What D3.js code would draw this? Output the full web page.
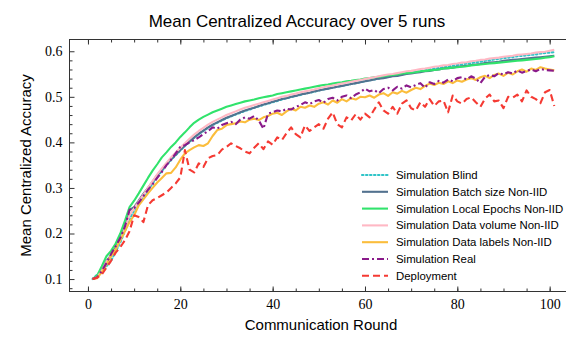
<!DOCTYPE html>
<html lang="en">
<head>
<meta charset="UTF-8">
<title>Mean Centralized Accuracy over 5 runs</title>
<style>
    body { margin: 0; background: #fff; }
    svg { display: block; }
</style>
</head>
<body>
<svg id="chart" width="566" height="338"></svg>

<script src="https://d3js.org/d3.v7.min.js"></script>
<script>
// communication rounds 1..101
const rounds = d3.range(1, 102);

const xTicks = [0, 20, 40, 60, 80, 100];
const yTicks = [0.1, 0.2, 0.3, 0.4, 0.5, 0.6];

const simBlind = [
    .100,.110,.112,.128,.140,.160,.180,.205,.232,.250,
    .265,.280,.295,.310,.324,.337,.350,.361,.372,.382,
    .392,.401,.410,.418,.425,.432,.438,.443,.448,.453,
    .457,.461,.465,.469,.472,.476,.479,.482,.485,.488,
    .491,.494,.497,.499,.502,.504,.507,.509,.511,.514,
    .516,.518,.520,.522,.524,.526,.528,.530,.532,.534,
    .536,.538,.540,.542,.544,.546,.547,.549,.551,.553,
    .555,.556,.558,.560,.562,.563,.565,.567,.568,.570,
    .571,.573,.574,.576,.577,.579,.580,.582,.583,.585,
    .586,.587,.589,.590,.591,.592,.593,.595,.596,.597,.598
];

const simBatch = [
    .100,.104,.120,.140,.152,.170,.190,.215,.252,.258,
    .272,.287,.300,.314,.328,.340,.352,.363,.373,.383,
    .393,.402,.411,.419,.426,.433,.439,.444,.449,.454,
    .458,.462,.466,.470,.473,.476,.480,.483,.486,.489,
    .492,.495,.497,.500,.502,.505,.507,.509,.512,.514,
    .516,.518,.520,.522,.524,.526,.528,.530,.532,.534,
    .536,.538,.540,.541,.543,.545,.546,.548,.550,.551,
    .553,.554,.556,.557,.559,.560,.562,.563,.564,.566,
    .567,.568,.570,.571,.572,.574,.575,.576,.577,.579,
    .580,.581,.582,.583,.584,.585,.586,.587,.588,.589,.590
];

const simEpochs = [
    .100,.108,.128,.150,.162,.178,.200,.228,.258,.272,
    .288,.305,.322,.338,.352,.367,.378,.390,.400,.412,
    .422,.433,.443,.450,.456,.461,.466,.470,.474,.478,
    .481,.484,.487,.490,.492,.494,.497,.499,.501,.503,
    .506,.508,.510,.512,.514,.516,.518,.520,.522,.524,
    .526,.527,.529,.531,.532,.534,.535,.537,.538,.540,
    .541,.543,.544,.545,.547,.548,.549,.551,.552,.553,
    .554,.556,.557,.558,.559,.560,.562,.563,.564,.565,
    .566,.567,.569,.570,.571,.572,.573,.574,.575,.576,
    .577,.578,.579,.580,.581,.582,.583,.584,.586,.587,.589
];

const simVolume = [
    .100,.104,.118,.138,.150,.166,.186,.210,.240,.255,
    .270,.285,.300,.315,.330,.343,.355,.367,.378,.388,
    .398,.408,.417,.425,.432,.439,.445,.450,.455,.460,
    .464,.468,.472,.476,.479,.482,.485,.488,.491,.494,
    .497,.500,.502,.505,.507,.510,.512,.514,.516,.519,
    .521,.523,.525,.527,.529,.531,.533,.535,.537,.539,
    .541,.543,.545,.547,.549,.550,.552,.554,.556,.557,
    .559,.561,.562,.564,.566,.567,.569,.570,.572,.573,
    .575,.576,.578,.579,.581,.582,.584,.585,.586,.588,
    .589,.590,.592,.593,.594,.595,.597,.598,.599,.601,.603
];

const simLabels = [
    .100,.102,.115,.132,.150,.165,.185,.205,.225,.240,
    .262,.275,.288,.300,.312,.322,.332,.333,.345,.362,
    .376,.383,.389,.394,.392,.398,.414,.427,.430,.438,
    .440,.442,.446,.444,.450,.452,.449,.455,.458,.463,
    .465,.460,.468,.474,.470,.478,.476,.481,.478,.485,
    .488,.483,.492,.487,.495,.490,.497,.494,.500,.499,
    .503,.498,.505,.508,.502,.510,.507,.513,.509,.515,
    .520,.517,.524,.529,.526,.531,.528,.534,.530,.536,
    .533,.538,.541,.537,.543,.546,.541,.548,.551,.546,
    .553,.549,.556,.560,.555,.562,.559,.565,.562,.560,.558
];

const simReal = [
    .100,.104,.118,.135,.155,.172,.190,.215,.252,.256,
    .268,.282,.296,.308,.322,.335,.350,.362,.376,.390,
    .394,.400,.405,.411,.418,.425,.433,.430,.438,.442,
    .445,.440,.450,.455,.452,.458,.448,.430,.463,.466,
    .470,.468,.474,.472,.478,.482,.488,.484,.490,.493,
    .487,.495,.498,.492,.500,.503,.497,.505,.510,.518,
    .512,.515,.508,.517,.520,.514,.522,.518,.525,.521,
    .526,.530,.520,.532,.528,.535,.531,.538,.534,.541,
    .543,.538,.545,.540,.530,.544,.548,.545,.552,.549,
    .554,.551,.558,.553,.557,.560,.556,.561,.559,.558,.557
];

const deployment = [
    .100,.103,.110,.125,.140,.158,.170,.185,.205,.240,
    .236,.225,.262,.273,.278,.284,.290,.300,.310,.323,
    .383,.340,.334,.354,.346,.365,.370,.372,.384,.390,
    .398,.392,.387,.380,.376,.388,.398,.385,.402,.395,
    .411,.405,.420,.433,.418,.411,.437,.425,.433,.440,
    .430,.452,.466,.440,.433,.455,.448,.462,.450,.463,
    .455,.472,.488,.470,.463,.478,.463,.485,.492,.475,
    .470,.488,.478,.495,.480,.490,.492,.466,.503,.490,
    .485,.495,.499,.488,.478,.496,.505,.490,.492,.475,
    .500,.498,.505,.490,.514,.500,.495,.486,.510,.515,.480
];

const series = [
    {name: 'Simulation Blind', values: simBlind, color: '#2ec4c8', dash: '1.5,2.5', cap: 'round'},
    {name: 'Simulation Batch size Non-IID', values: simBatch, color: '#53728f', dash: null},
    {name: 'Simulation Local Epochs Non-IID', values: simEpochs, color: '#31e36c', dash: null},
    {name: 'Simulation Data volume Non-IID', values: simVolume, color: '#ffb8c4', dash: null},
    {name: 'Simulation Data labels Non-IID', values: simLabels, color: '#fbbd3c', dash: null},
    {name: 'Simulation Real', values: simReal, color: '#8a1a8a', dash: '7,3,2,3'},
    {name: 'Deployment', values: deployment, color: '#f53a33', dash: '7,4'}
];

const serif = '"Liberation Serif", "Times New Roman", serif';
const sans = '"Liberation Sans", Arial, Helvetica, sans-serif';

// plot box (right side runs past the window, like the original crop)
const plotLeft = 69.5, plotTop = 39.5, plotBottom = 291.5;
const x = d3.scaleLinear().domain([-4, 106]).range([plotLeft, plotLeft + 110 * 4.617]);
const y = d3.scaleLinear().domain([0.0727, 0.6258]).range([plotBottom, plotTop]);

const svg = d3.select('#chart');

svg.append('defs').append('clipPath').attr('id', 'plot-clip')
    .append('rect')
    .attr('x', x.range()[0]).attr('y', plotTop)
    .attr('width', x.range()[1] - x.range()[0]).attr('height', plotBottom - plotTop);

// lines
const line = d3.line()
    .x((d, i) => x(rounds[i]))
    .y(d => y(d));

const lines = svg.append('g').attr('clip-path', 'url(#plot-clip)');
series.forEach(s => {
    lines.append('path')
        .datum(s.values)
        .attr('fill', 'none')
        .attr('stroke', s.color)
        .attr('stroke-width', 2.1)
        .attr('stroke-linecap', s.cap || 'butt')
        .attr('stroke-linejoin', 'round')
        .attr('stroke-dasharray', s.dash)
        .attr('d', line);
});

// frame
const axisColor = '#333';
svg.append('rect')
    .attr('x', x.range()[0]).attr('y', plotTop)
    .attr('width', x.range()[1] - x.range()[0]).attr('height', plotBottom - plotTop)
    .attr('fill', 'none').attr('stroke', axisColor).attr('stroke-width', 1);

// inward ticks, all sides
function inward(axis, len) { return axis.tickSize(-len).tickFormat(''); }

const xMinor = d3.range(0, 106, 5);
const yMinor = d3.range(0.08, 0.62, 0.02).filter(v => Math.abs(v * 10 - Math.round(v * 10)) > 1e-6);

const gx = svg.append('g').attr('transform', `translate(0,${plotBottom})`);
gx.call(d3.axisBottom(x).tickValues(xTicks).tickSize(-5).tickPadding(8).tickFormat(d3.format('d')));
gx.append('g').call(inward(d3.axisBottom(x).tickValues(xMinor), 3));

const gxt = svg.append('g').attr('transform', `translate(0,${plotTop})`);
gxt.call(inward(d3.axisTop(x).tickValues(xTicks), 5));
gxt.append('g').call(inward(d3.axisTop(x).tickValues(xMinor), 3));

const gy = svg.append('g').attr('transform', `translate(${plotLeft},0)`);
gy.call(d3.axisLeft(y).tickValues(yTicks).tickSize(-5).tickPadding(7).tickFormat(d3.format('.1f')));
gy.append('g').call(inward(d3.axisLeft(y).tickValues(yMinor), 3));

svg.selectAll('.domain').remove();
svg.selectAll('.tick line').attr('stroke', axisColor);
svg.selectAll('.tick text')
    .style('font-family', serif)
    .style('font-size', '14px')
    .style('fill', '#000');

// titles
svg.append('text')
    .attr('x', 297).attr('y', 27).attr('text-anchor', 'middle')
    .style('font-family', sans).style('font-size', '17px')
    .text('Mean Centralized Accuracy over 5 runs');

svg.append('text')
    .attr('x', 321).attr('y', 330).attr('text-anchor', 'middle')
    .style('font-family', sans).style('font-size', '15px')
    .text('Communication Round');

svg.append('text')
    .attr('transform', `translate(31,${(plotTop + plotBottom) / 2}) rotate(-90)`)
    .attr('text-anchor', 'middle')
    .style('font-family', sans).style('font-size', '15px')
    .text('Mean Centralized Accuracy');

// legend (lower right, no frame)
const legend = svg.append('g').attr('transform', 'translate(362,175)');
series.forEach((s, i) => {
    const row = legend.append('g').attr('transform', `translate(0,${i * 16.8})`);
    row.append('line')
        .attr('x1', 0).attr('x2', 26).attr('y1', 0).attr('y2', 0)
        .attr('stroke', s.color).attr('stroke-width', 2.1)
        .attr('stroke-linecap', s.cap || 'butt')
        .attr('stroke-dasharray', s.dash);
    row.append('text').attr('x', 34).attr('y', 4)
        .style('font-family', sans).style('font-size', '11.4px')
        .text(s.name);
});
</script>
</body>
</html>
